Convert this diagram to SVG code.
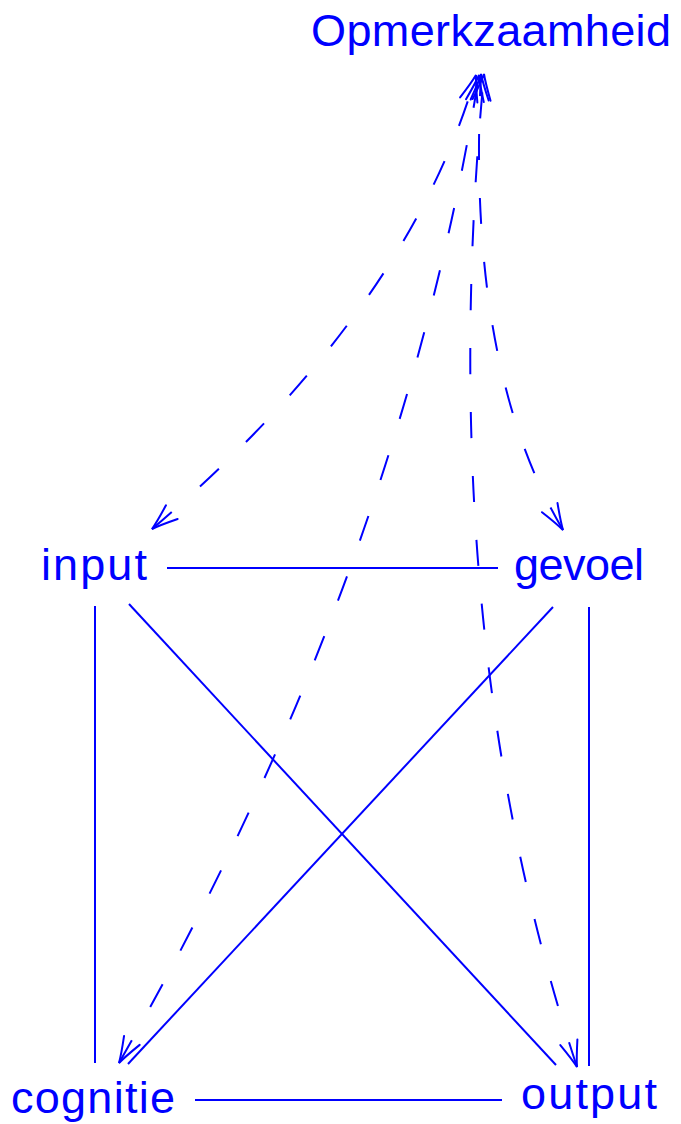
<svg xmlns="http://www.w3.org/2000/svg" width="681" height="1124" viewBox="0 0 681 1124">
<style>
.lbl{font-family:"Liberation Sans",Arial,sans-serif;font-size:45px;fill:#0000ff}
.ln{stroke:#0000ff;stroke-width:2;fill:none}
.dash{stroke:#0000ff;stroke-width:2;fill:none;stroke-dasharray:26 38;marker-start:url(#to);marker-end:url(#to)}
</style>
<defs>
<marker id="to" markerUnits="userSpaceOnUse" viewBox="-30 -12 34 24" refX="0" refY="0" markerWidth="34" markerHeight="24" orient="auto-start-reverse" overflow="visible">
<path d="M -26,-9 Q -8,-2 0,0 Q -8,2 -26,9" stroke="#0000ff" stroke-width="2" fill="none" stroke-linecap="round"/>
</marker>
</defs>
<g id="connectors">
<line class="ln" x1="167" y1="568" x2="498" y2="568"/>
<line class="ln" x1="95" y1="606" x2="95" y2="1063"/>
<line class="ln" x1="589" y1="607" x2="589" y2="1066"/>
<line class="ln" x1="195" y1="1100" x2="502" y2="1100"/>
<line class="ln" x1="129" y1="604" x2="556" y2="1065"/>
<line class="ln" x1="553" y1="607" x2="128" y2="1064"/>
<path class="dash" d="M 152,529 Q 407,312 476,75"/>
<path class="dash" d="M 563,530 Q 466,366 481,74"/>
<path class="dash" d="M 119,1063 Q 400,570 479,75"/>
<path class="dash" d="M 577,1067 Q 432,628 484,74"/>
</g>
<g id="node-opmerkzaamheid"><text class="lbl" x="311" y="46" textLength="360" lengthAdjust="spacing">Opmerkzaamheid</text></g>
<g id="node-input"><text class="lbl" x="41" y="580" textLength="106" lengthAdjust="spacing">input</text></g>
<g id="node-gevoel"><text class="lbl" x="514" y="580" textLength="130" lengthAdjust="spacing">gevoel</text></g>
<g id="node-cognitie"><text class="lbl" x="11" y="1113" textLength="164" lengthAdjust="spacing">cognitie</text></g>
<g id="node-output"><text class="lbl" x="521" y="1109" textLength="136" lengthAdjust="spacing">output</text></g>
</svg>
